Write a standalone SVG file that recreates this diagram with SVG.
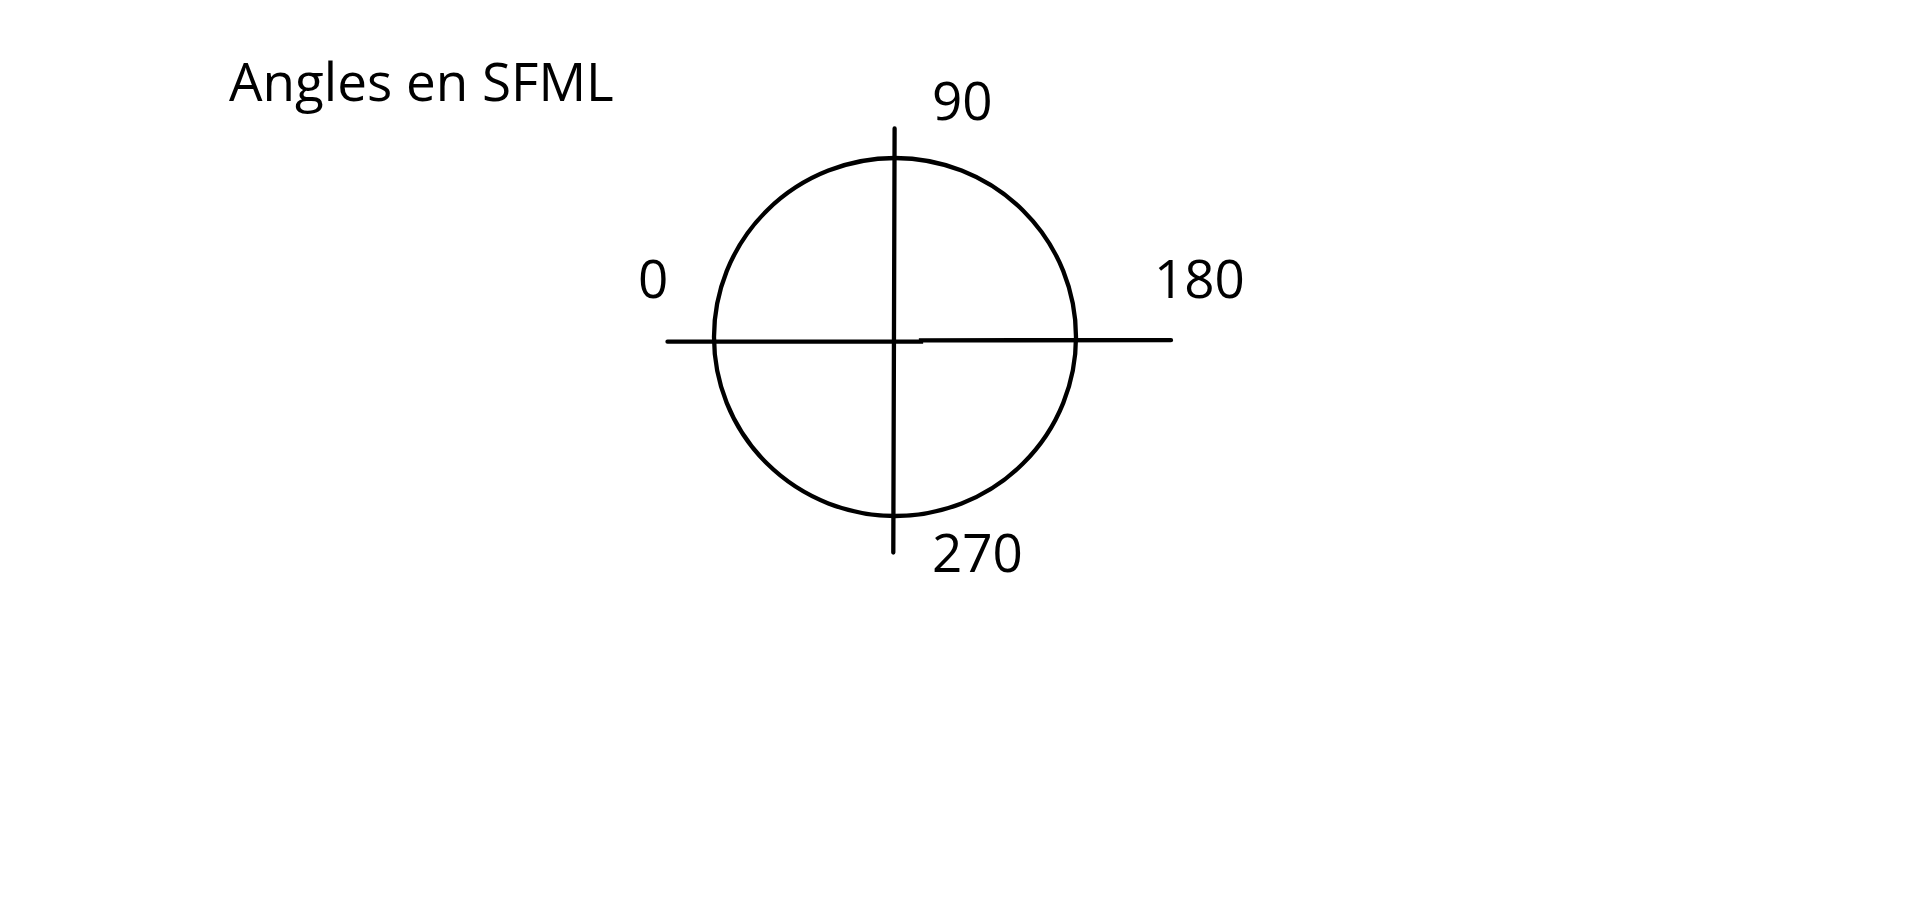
<svg xmlns="http://www.w3.org/2000/svg" width="1914" height="903" viewBox="0 0 1914 903">
<style>
.t{font-family:"Open Sans","Noto Sans",sans-serif;font-size:53px;fill:#000}
.s{fill:none;stroke:#000;stroke-width:4.3;stroke-linecap:round}
</style>
<rect width="1914" height="903" fill="#fff"/>
<text class="t" x="229" y="101">Angles en SFML</text>
<g id="circle"><ellipse class="s" cx="895" cy="337" rx="181" ry="179"/></g>
<g id="connectors">
<path class="s" d="M894.6 128.5 L893.3 552.5"/>
<path class="s" d="M667.5 341.7 L921 341.5 L921 340.3 L1171 340.2"/>
</g>
<g id="labels">
<text class="t" x="932" y="120">90</text>
<text class="t" x="638" y="298">0</text>
<text class="t" x="1154" y="298">180</text>
<text class="t" x="932" y="572">270</text>
</g>
</svg>
